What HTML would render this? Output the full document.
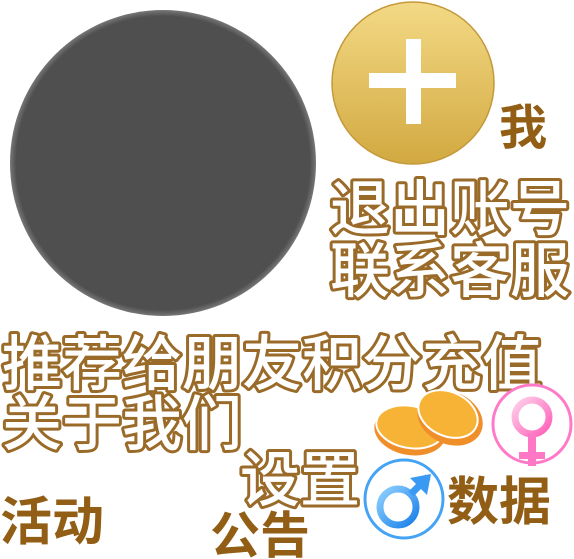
<!DOCTYPE html>
<html><head><meta charset="utf-8"><style>
html,body{margin:0;padding:0;background:#fff;width:574px;height:559px;overflow:hidden}
svg{display:block}
.o{font-family:"Liberation Sans","Noto Sans CJK SC",sans-serif;font-weight:500;fill:#fff;stroke:#9a6a28;stroke-width:6;paint-order:stroke fill;stroke-linejoin:round}
.s{font-family:"Liberation Sans","Noto Sans CJK SC",sans-serif;font-weight:bold;fill:#925e15}
</style></head><body>
<svg width="574" height="559" viewBox="0 0 574 559">
<defs>
<radialGradient id="gc" cx="50%" cy="50%" r="50%"><stop offset="0.96" stop-color="#4f4f4f"/><stop offset="1" stop-color="#777"/></radialGradient>
<linearGradient id="gold" x1="0" y1="0" x2="0" y2="1"><stop offset="0" stop-color="#f3d985"/><stop offset="1" stop-color="#d2a941"/></linearGradient>
<linearGradient id="pk" x1="0" y1="0" x2="1" y2="1"><stop offset="0" stop-color="#ffd0ea"/><stop offset="1" stop-color="#ff5fb8"/></linearGradient>
<linearGradient id="bl" x1="0" y1="0" x2="1" y2="1"><stop offset="0" stop-color="#8fd0ff"/><stop offset="1" stop-color="#1a7fe8"/></linearGradient>
</defs>
<circle cx="163" cy="163" r="153" fill="url(#gc)"/>
<g>
<circle cx="413" cy="83" r="81" fill="url(#gold)" stroke="#c4993a" stroke-width="1.5"/>
<rect x="369" y="73" width="87" height="15" fill="#fff"/>
<rect x="406" y="39" width="15" height="85" fill="#fff"/>
</g>
<text class="s" x="499" y="144" font-size="48">我</text>
<text class="o" x="330" y="230" font-size="60">退出账号</text>
<text class="o" x="330" y="292" font-size="60">联系客服</text>
<text class="o" x="2" y="385" font-size="60">推荐给朋友积分充值</text>
<text class="o" x="2" y="445" font-size="60">关于我们</text>
<text class="o" x="240" y="501" font-size="60">设置</text>
<text class="s" x="210" y="553" font-size="50">公告</text>
<text class="s" x="0" y="540" font-size="52">活动</text>
<text class="s" x="447" y="520" font-size="52">数据</text>
<g>
<ellipse cx="410" cy="431" rx="36" ry="24" transform="rotate(10 410 431)" fill="#f08e2a"/>
<ellipse cx="410" cy="427" rx="34" ry="21" transform="rotate(10 410 427)" fill="#f6b336" stroke="#fff" stroke-width="2"/>
<ellipse cx="450" cy="418" rx="34" ry="26" transform="rotate(25 450 418)" fill="#f08e2a"/>
<ellipse cx="448" cy="414" rx="31" ry="22" transform="rotate(25 448 414)" fill="#f6b336" stroke="#fff" stroke-width="2"/>
</g>
<g>
<circle cx="532" cy="424" r="39" fill="#fff" stroke="#ff79c8" stroke-width="3"/>
<circle cx="532" cy="417" r="17" fill="none" stroke="url(#pk)" stroke-width="7"/>
<rect x="528" y="434" width="8" height="32" fill="#ff78c6"/>
<rect x="519" y="452" width="26" height="7" fill="#ff78c6"/>
</g>
<g>
<circle cx="404" cy="499" r="39" fill="#fff" stroke="#44a3f5" stroke-width="3"/>
<circle cx="398" cy="507" r="18" fill="none" stroke="url(#bl)" stroke-width="7"/>
<line x1="411" y1="494" x2="428" y2="477" stroke="#3a99f2" stroke-width="7"/>
<polygon points="410,478 431,474 427,495" fill="#3a99f2"/>
</g>
</svg>
</body></html>
